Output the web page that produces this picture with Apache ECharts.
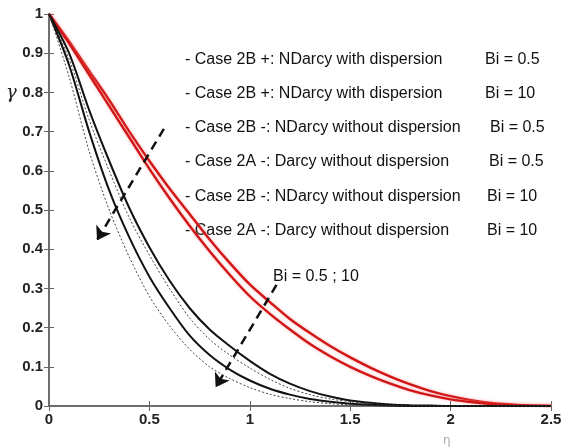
<!DOCTYPE html>
<html>
<head>
<meta charset="utf-8">
<script src="https://cdn.jsdelivr.net/npm/echarts@6/dist/echarts.min.js"></script>
<style>
  html, body { margin: 0; padding: 0; background: #fff; }
  #chart { width: 568px; height: 448px; }
</style>
</head>
<body>
<div id="chart"></div>
<script>
// eta positions shared by all curves
var eta = [0, 0.1, 0.2, 0.3, 0.4, 0.5, 0.6, 0.7, 0.8, 0.9, 1.0, 1.1, 1.2,
           1.3, 1.4, 1.5, 1.6, 1.7, 1.8, 1.9, 2.0, 2.1, 2.2, 2.3, 2.4, 2.5];

// Case 2B + (with dispersion), red
var case2BplusBi05 = [1, 0.93, 0.855, 0.78, 0.70, 0.625, 0.555, 0.49, 0.425, 0.365, 0.31, 0.265, 0.222,
                      0.186, 0.153, 0.124, 0.098, 0.075, 0.055, 0.038, 0.025, 0.015, 0.008, 0.004, 0.001, 0];
var case2BplusBi10 = [1, 0.925, 0.845, 0.765, 0.685, 0.605, 0.53, 0.46, 0.395, 0.335, 0.28, 0.235, 0.195,
                      0.158, 0.127, 0.1, 0.077, 0.057, 0.04, 0.027, 0.017, 0.01, 0.005, 0.002, 0.001, 0];
// without dispersion, black
var case2BminusBi05 = [1, 0.9, 0.755, 0.625, 0.505, 0.405, 0.32, 0.25, 0.195, 0.153, 0.115, 0.082, 0.057,
                       0.038, 0.024, 0.014, 0.008, 0.004, 0.002, 0.001, 0, 0, 0, 0, 0, 0];
var case2ABi05 = [1, 0.885, 0.73, 0.6, 0.48, 0.385, 0.3, 0.225, 0.17, 0.13, 0.097, 0.068, 0.045,
                  0.029, 0.018, 0.011, 0.006, 0.003, 0.001, 0, 0, 0, 0, 0, 0, 0];
var case2BminusBi10 = [1, 0.87, 0.7, 0.55, 0.43, 0.33, 0.25, 0.18, 0.13, 0.093, 0.065, 0.044, 0.029,
                       0.018, 0.011, 0.006, 0.003, 0.001, 0, 0, 0, 0, 0, 0, 0, 0];
var case2ABi10 = [1, 0.84, 0.65, 0.5, 0.38, 0.28, 0.205, 0.145, 0.1, 0.07, 0.047, 0.03, 0.019,
                  0.011, 0.006, 0.003, 0.001, 0, 0, 0, 0, 0, 0, 0, 0, 0];

var caseLabels = [
  '- Case 2B +: NDarcy with dispersion',
  '- Case 2B +: NDarcy with dispersion',
  '- Case 2B -: NDarcy without dispersion',
  '- Case 2A -: Darcy without dispersion',
  '- Case 2B -: NDarcy without dispersion',
  '- Case 2A -: Darcy without dispersion'
];
var biLabels = ['Bi = 0.5', 'Bi = 10', 'Bi = 0.5', 'Bi = 0.5', 'Bi = 10', 'Bi = 10'];

// arrow annotations [start, end] in data units
var arrowLeft = [[0.572, 0.707], [0.239, 0.423]];
var arrowRight = [[1.133, 0.309], [0.83, 0.048]];

function pairs(ys) {
  return eta.map(function (x, i) { return [x, ys[i]]; });
}

var redStyle = { color: '#d01616', width: 2.4, shadowColor: 'rgba(255,140,140,0.7)', shadowBlur: 3 };
var blackStyle = { color: '#111', width: 2 };
var dotStyle = { color: '#444', width: 1, type: [2, 2] };

function line(name, ys, style) {
  return {
    name: name, type: 'line', data: pairs(ys), showSymbol: false,
    smooth: 0.3, lineStyle: style, silent: true
  };
}

var series = [
  line('2B+ Bi=0.5', case2BplusBi05, redStyle),
  line('2B+ Bi=10', case2BplusBi10, redStyle),
  line('2B- Bi=0.5', case2BminusBi05, blackStyle),
  line('2A Bi=0.5', case2ABi05, dotStyle),
  line('2B- Bi=10', case2BminusBi10, blackStyle),
  line('2A Bi=10', case2ABi10, dotStyle)
];

series[2].markLine = {
  silent: true,
  symbol: ['none', 'arrow'],
  symbolSize: 13,
  label: { show: false },
  lineStyle: { color: '#111', width: 2.5, type: [9, 6] },
  data: [
    [{ coord: arrowLeft[0] }, { coord: arrowLeft[1] }],
    [{ coord: arrowRight[0] }, { coord: arrowRight[1] }]
  ]
};

var graphics = [];
var rowY = [60, 94, 128, 162, 197, 231];
var biX = [485, 485, 490, 489, 487, 487];
var txtFont = '16px "Liberation Sans", Arial, sans-serif';
caseLabels.forEach(function (t, i) {
  graphics.push({ type: 'text', x: 185, y: rowY[i], silent: true,
    style: { text: t, font: txtFont, fill: '#111', verticalAlign: 'middle' } });
  graphics.push({ type: 'text', x: biX[i], y: rowY[i], silent: true,
    style: { text: biLabels[i], font: txtFont, fill: '#111', verticalAlign: 'middle' } });
});
graphics.push({ type: 'text', x: 273, y: 277, silent: true,
  style: { text: 'Bi = 0.5 ; 10', font: txtFont, fill: '#111', verticalAlign: 'middle' } });
graphics.push({ type: 'text', x: 6, y: 93, silent: true,
  style: { text: 'γ', font: 'italic 18px "DejaVu Serif", serif', fill: '#222', verticalAlign: 'middle' } });
graphics.push({ type: 'text', x: 443, y: 441, silent: true,
  style: { text: 'η', font: '12px "DejaVu Sans", sans-serif', fill: '#aaa', verticalAlign: 'middle' } });

var axisLine = { lineStyle: { color: '#666', width: 1.5 } };
var tick = { inside: true, length: 5, lineStyle: { color: '#666', width: 1 } };
var lbl = { color: '#222', fontSize: 15, fontWeight: 'bold', fontFamily: '"Liberation Sans", Arial, sans-serif' };

var chart = echarts.init(document.getElementById('chart'));
chart.setOption({
  animation: false,
  backgroundColor: '#fff',
  grid: { left: 49, right: 17, top: 14, bottom: 42 },
  xAxis: [
    { type: 'value', min: 0, max: 2.5, interval: 0.5, axisLine: axisLine, axisTick: tick,
      axisLabel: Object.assign({ margin: 6 }, lbl), splitLine: { show: false } },
    { type: 'value', position: 'top', min: 0, max: 2.5, interval: 0.5, axisLine: axisLine, axisTick: tick,
      axisLabel: { show: false }, splitLine: { show: false } }
  ],
  yAxis: [
    { type: 'value', min: 0, max: 1, interval: 0.1, axisLine: axisLine, axisTick: tick,
      axisLabel: Object.assign({ margin: 6 }, lbl), splitLine: { show: false } },
    { type: 'value', position: 'right', min: 0, max: 1, interval: 0.1, axisLine: axisLine, axisTick: tick,
      axisLabel: { show: false }, splitLine: { show: false } }
  ],
  graphic: graphics,
  series: series
});
</script>
</body>
</html>
